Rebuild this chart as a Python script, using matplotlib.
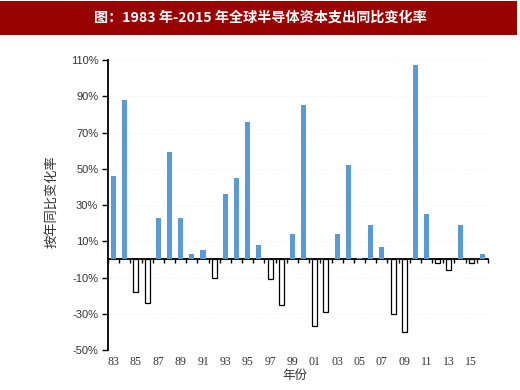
import matplotlib
matplotlib.use("Agg")
import matplotlib.pyplot as plt
from matplotlib.patches import Rectangle
from matplotlib.ticker import NullFormatter

plt.rcParams['font.family'] = ['Noto Sans CJK SC', 'DejaVu Sans']

title = "图：1983 年-2015 年全球半导体资本支出同比变化率"
ylabel = "按年同比变化率"
xlabel = "年份"

years = ["83", "84", "85", "86", "87", "88", "89", "90", "91", "92", "93", "94",
         "95", "96", "97", "98", "99", "00", "01", "02", "03", "04", "05", "06",
         "07", "08", "09", "10", "11", "12", "13", "14", "15", "16"]
values = [46, 88, -18, -24, 23, 59, 23, 3, 5, -10, 36, 45,
          76, 8, -11, -25, 14, 85, -37, -29, 14, 52, 0.5, 19,
          7, -30, -40, 107, 25, -2, -6, 19, -2, 3]
yticks = [-50, -30, -10, 10, 30, 50, 70, 90, 110]

pos_color = "#5b9bd5"

fig = plt.figure(figsize=(5.2, 3.9), dpi=100)
fig.patch.set_facecolor("white")

# title banner
fig.patches.append(Rectangle((0.0, 0.910), 0.995, 0.0865, transform=fig.transFigure,
                             facecolor="#990000", edgecolor="none", zorder=0))
fig.text(0.5, 0.954, title, color="white", fontsize=10.2, fontweight="bold",
         ha="center", va="center")

ax = fig.add_axes([0.2077, 0.1026, 0.9385 - 0.2077, 0.846 - 0.1026])
x = list(range(len(years)))
faces = [pos_color if v >= 0 else "white" for v in values]
edges = [pos_color if v >= 0 else "black" for v in values]
lws = [0.0 if v >= 0 else 0.9 for v in values]
ax.bar(x, values, width=0.45, color=faces, edgecolor=edges, linewidth=lws, zorder=3)

ax.set_xlim(-0.5, len(years) - 0.5)
ax.set_ylim(-50, 110)
ax.set_yticks(yticks)
ax.set_yticklabels([f"{t}%" for t in yticks], family=["Liberation Sans", "DejaVu Sans"],
                   fontsize=8, color="#333333")
ax.tick_params(axis="y", direction="out", length=4, width=1.0, pad=3)
ax.grid(axis="y", color="#eeeeee", linewidth=0.6, linestyle=":", zorder=0)

# bottom labels (no spine), every other year
lab_pos = x[::2]
ax.set_xticks(lab_pos)
ax.set_xticklabels(years[::2], family=["Liberation Serif", "DejaVu Serif"],
                   fontsize=8.5, color="#333333")
ax.tick_params(axis="x", length=0, pad=4)
ax.spines["bottom"].set_visible(False)
ax.spines["top"].set_visible(False)
ax.spines["right"].set_visible(False)
ax.spines["left"].set_linewidth(1.3)

# zero axis with category boundary ticks
zero_frac = (0 - (-50)) / (110 - (-50))
sec = ax.secondary_xaxis(zero_frac)
sec.set_xticks([i - 0.5 for i in range(len(years) + 1)])
sec.xaxis.set_major_formatter(NullFormatter())
sec.tick_params(axis="x", direction="out", length=3, width=1.0)
sec.spines["bottom"].set_linewidth(1.3)

fig.text(0.100, 0.482, ylabel, rotation=90, fontsize=9.5, color="#333333",
         ha="center", va="center")
fig.text(0.567, 0.038, xlabel, fontsize=9, color="#333333", ha="center", va="center")

fig.savefig("out.png", dpi=100, facecolor="white")
